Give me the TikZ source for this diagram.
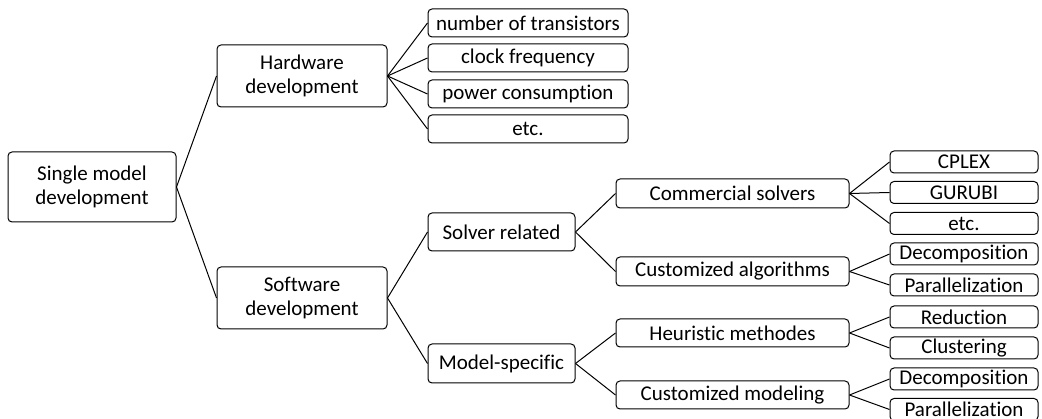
\documentclass[tikz,border=0pt]{standalone}
\usepackage{fontspec}
\setmainfont{Carlito}[Ligatures=NoCommon]
\begin{document}
\begin{tikzpicture}[x=1pt,y=-1pt,
  box/.style={draw=black, line width=1pt, rounded corners=4pt, inner sep=0pt, align=center,
    font=\fontsize{21}{23.5}\selectfont},
  link/.style={draw=black, line width=1pt}]
\useasboundingbox (0,0) rectangle (1042,419);
\node[box, minimum width=168pt, minimum height=70pt] (root) at (92,187) {Single model\\development};
\node[box, minimum width=170pt, minimum height=62pt] (hw) at (302,76) {Hardware\\development};
\node[box, minimum width=170pt, minimum height=62pt] (sw) at (302,298) {Software\\development};
\foreach \n/\y/\t in {h1/23/number of transistors, h2/58/clock frequency, h3/94/power consumption, h4/129/etc.}{
  \node[box, minimum width=200pt, minimum height=28pt] (\n) at (528,\y) {\t};
}
\node[box, minimum width=147pt, minimum height=38pt] (sr) at (501.5,232) {Solver related};
\node[box, minimum width=147pt, minimum height=39pt] (ms) at (501.5,363.5) {Model-specific};
\node[box, minimum width=233pt, minimum height=29pt] (cs) at (732.5,193.5) {Commercial solvers};
\node[box, minimum width=233pt, minimum height=29pt] (ca) at (732.5,271.5) {Customized algorithms};
\node[box, minimum width=233pt, minimum height=28pt] (hm) at (732.5,333) {Heuristic methodes};
\node[box, minimum width=233pt, minimum height=28pt] (cm) at (732.5,395) {Customized modeling};
\foreach \n/\y/\t in {l1/162/CPLEX, l2/192.5/GURUBI, l3/223.5/etc., l4/254/Decomposition, l5/285/Parallelization, l6/317/Reduction, l7/348/Clustering, l8/379/Decomposition, l9/409.5/Parallelization}{
  \node[box, minimum width=148pt, minimum height=22pt] (\n) at (964,\y) {\t};
}
\draw[link] (root.east) -- (hw.west);
\draw[link] (root.east) -- (sw.west);
\foreach \c in {h1,h2,h3,h4} \draw[link] (hw.east) -- (\c.west);
\draw[link] (sw.east) -- (sr.west);
\draw[link] (sw.east) -- (ms.west);
\draw[link] (sr.east) -- (cs.west);
\draw[link] (sr.east) -- (ca.west);
\draw[link] (ms.east) -- (hm.west);
\draw[link] (ms.east) -- (cm.west);
\foreach \c in {l1,l2,l3} \draw[link] (cs.east) -- (\c.west);
\foreach \c in {l4,l5} \draw[link] (ca.east) -- (\c.west);
\foreach \c in {l6,l7} \draw[link] (hm.east) -- (\c.west);
\foreach \c in {l8,l9} \draw[link] (cm.east) -- (\c.west);
\end{tikzpicture}
\end{document}
